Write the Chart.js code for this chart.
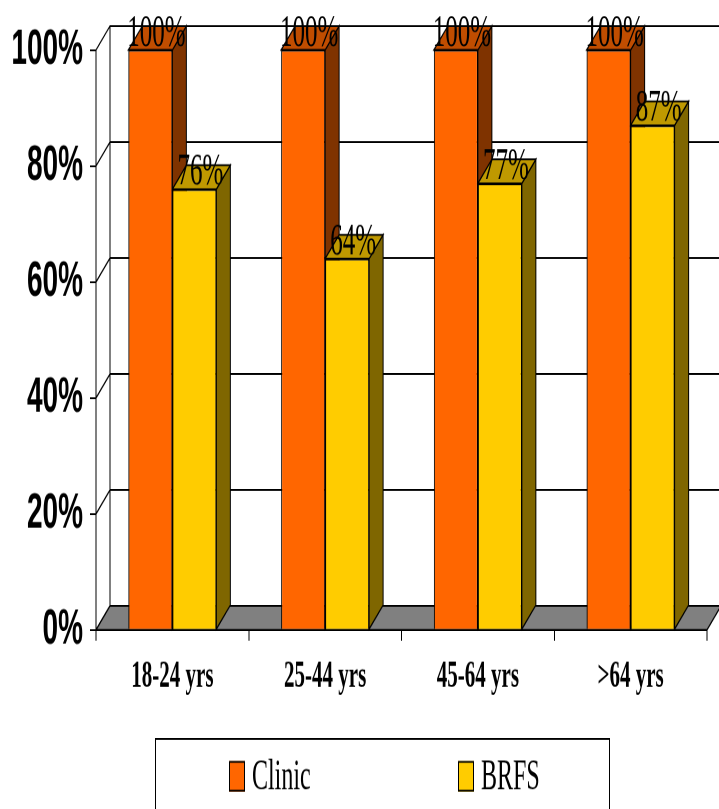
<!DOCTYPE html>
<html>
<head>
<meta charset="utf-8">
<script src="https://cdn.jsdelivr.net/npm/chart.js@4.4.1/dist/chart.umd.min.js"></script>
<style>
  html, body { margin: 0; padding: 0; background: #ffffff; }
  #outer { width: 719px; height: 809px; position: relative; overflow: hidden; }
  #wrap { position: absolute; left: 0; top: 0; width: 719px; height: 450px; transform-origin: 0 0; transform: scaleY(1.79778); }
  canvas { display: block; }
</style>
</head>
<body>
<div id="outer"><div id="wrap"><canvas id="c" width="719" height="450"></canvas></div></div>
<script>
const categories = ['18-24 yrs', '25-44 yrs', '45-64 yrs', '>64 yrs'];
const clinicValues = [100, 100, 100, 100];
const brfsValues = [76, 64, 77, 87];
const seriesNames = ['Clinic', 'BRFS'];
const yTickValues = [0, 20, 40, 60, 80, 100];

const frontColors = ['#FF6600', '#FFCC00'];
const topColors = ['#C04D00', '#BF9900'];
const sideColors = ['#7F3300', '#7F6600'];
const DX = 14, DY = -13.35;

function poly(ctx, pts, fill) {
  ctx.beginPath();
  ctx.moveTo(pts[0][0], pts[0][1]);
  for (let k = 1; k < pts.length; k++) ctx.lineTo(pts[k][0], pts[k][1]);
  ctx.closePath();
  if (fill) { ctx.fillStyle = fill; ctx.fill(); }
  ctx.stroke();
}

const threeD = {
  id: 'threeD',
  beforeDatasetsDraw(chart) {
    const { ctx, chartArea: { left, right }, scales: { y } } = chart;
    ctx.save();
    ctx.strokeStyle = '#000';
    ctx.lineWidth = 1;
    yTickValues.forEach(v => {
      const yy = y.getPixelForValue(v);
      ctx.beginPath();
      ctx.moveTo(left, yy);
      ctx.lineTo(left + DX, yy + DY);
      ctx.lineTo(chart.width + 5, yy + DY);
      ctx.stroke();
    });
    ctx.beginPath();
    ctx.moveTo(left + DX, y.getPixelForValue(100) + DY);
    ctx.lineTo(left + DX, y.getPixelForValue(0) + DY);
    ctx.stroke();
    const y0 = y.getPixelForValue(0);
    poly(ctx, [[left, y0], [right, y0], [right + DX, y0 + DY], [left + DX, y0 + DY]], '#808080');
    const n = chart.data.labels.length;
    for (let i = 0; i < n; i++) {
      chart.data.datasets.forEach((ds, d) => {
        const el = chart.getDatasetMeta(d).data[i];
        const L = el.x - el.width / 2, R = el.x + el.width / 2, T = el.y, B = el.base;
        poly(ctx, [[R, T], [R + DX, T + DY], [R + DX, B + DY], [R, B]], sideColors[d]);
        poly(ctx, [[L, T], [R, T], [R + DX, T + DY], [L + DX, T + DY]], topColors[d]);
      });
    }
    ctx.restore();
  },
  afterDatasetsDraw(chart) {
    const { ctx } = chart;
    ctx.save();
    ctx.fillStyle = '#000';
    ctx.font = '25px "Liberation Serif"';
    ctx.textAlign = 'center';
    ctx.textBaseline = 'alphabetic';
    chart.data.datasets.forEach((ds, d) => {
      chart.getDatasetMeta(d).data.forEach((el, i) => {
        ctx.fillText(ds.data[i] + '%', el.x + 6, el.y - 2.5);
      });
    });
    ctx.strokeStyle = '#000';
    ctx.lineWidth = 1;
    ctx.strokeRect(155.5, 411, 454, 80);
    const lx = [229, 458];
    ctx.font = '24px "Liberation Serif"';
    ctx.textAlign = 'left';
    ctx.textBaseline = 'middle';
    chart.data.datasets.forEach((ds, d) => {
      ctx.fillStyle = ds.backgroundColor;
      ctx.fillRect(lx[d], 423.3, 16, 17);
      ctx.strokeRect(lx[d] + 0.5, 423.8, 15, 16);
      ctx.fillStyle = '#000';
      ctx.fillText(ds.label, lx[d] + 23, 432.5);
    });
    ctx.restore();
  }
};

new Chart(document.getElementById('c'), {
  type: 'bar',
  data: {
    labels: categories,
    datasets: [
      { label: seriesNames[0], data: clinicValues, backgroundColor: frontColors[0], borderColor: '#000', borderWidth: 1, categoryPercentage: 0.576, barPercentage: 1.0 },
      { label: seriesNames[1], data: brfsValues, backgroundColor: frontColors[1], borderColor: '#000', borderWidth: 1, categoryPercentage: 0.576, barPercentage: 1.0 }
    ]
  },
  options: {
    responsive: false,
    animation: false,
    devicePixelRatio: 2,
    layout: { padding: { top: 27.8, right: 12, left: 0, bottom: 0 } },
    plugins: { legend: { display: false }, tooltip: { enabled: false } },
    scales: {
      x: {
        afterFit: s => { s.height = 99.6; },
        ticks: { color: '#000', padding: 7.5, font: { family: 'Liberation Serif', weight: 'bold', size: 21 } },
        grid: { offset: true, drawOnChartArea: false, drawTicks: true, tickLength: 6, color: '#000' },
        border: { color: '#000', width: 1 }
      },
      y: {
        min: 0, max: 100,
        afterFit: s => { s.width = 96; },
        afterBuildTicks: s => { s.ticks = yTickValues.map(v => ({ value: v })); },
        ticks: { color: '#000', padding: 7, callback: v => v + '%', font: { family: 'Liberation Sans', weight: 'bold', size: 28 } },
        grid: { drawOnChartArea: false, drawTicks: true, tickLength: 6, color: '#000' },
        border: { color: '#000', width: 1 }
      }
    }
  },
  plugins: [threeD]
});
</script>
</body>
</html>
